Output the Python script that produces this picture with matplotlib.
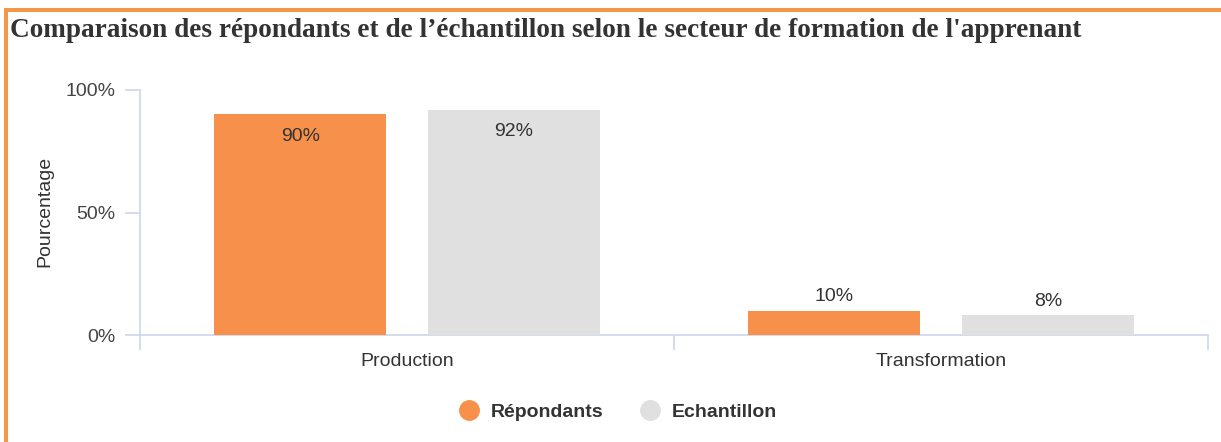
import matplotlib
matplotlib.use("Agg")
import matplotlib.pyplot as plt
from matplotlib.lines import Line2D
from matplotlib.patches import Rectangle
import numpy as np

# ---- data ----
categories = ["Production", "Transformation"]
series_names = ["Répondants", "Echantillon"]
repondants = [90, 10]
echantillon = [92, 8]
yticks = [0, 50, 100]
ytick_labels = ["0%", "50%", "100%"]
title = "Comparaison des répondants et de l\u2019échantillon selon le secteur de formation de l'apprenant"
ylabel = "Pourcentage"

# ---- style ----
ORANGE = "#F7904A"
GREY = "#E0E0E0"
AXIS = "#CCD6EB"
TXT = "#333333"
BORDER = "#F79646"
FS = 14

plt.rcParams["font.family"] = ["Liberation Sans", "DejaVu Sans"]

W, H = 1221, 442
fig = plt.figure(figsize=(W / 100, H / 100), dpi=100)

# orange frame (top and left)
fig.patches.append(Rectangle((4 / W, 1 - 12 / H), 1 - 4 / W, 4 / H, transform=fig.transFigure,
                             color=BORDER, lw=0, zorder=0))
fig.patches.append(Rectangle((4 / W, 0), 4 / W, 1 - 8 / H, transform=fig.transFigure,
                             color=BORDER, lw=0, zorder=0))

fig.text(10 / W, 1 - 37 / H, title, family=["Liberation Serif", "DejaVu Serif"],
         fontweight="bold", fontsize=19.6, color=TXT, va="baseline", ha="left")

ax = fig.add_axes([140 / W, 1 - 335 / H, (1208 - 140) / W, (335 - 90) / H])
x = np.arange(len(categories))
bw = 0.322
off = 0.2
b1 = ax.bar(x - off, repondants, bw, color=ORANGE, zorder=3)
b2 = ax.bar(x + off, echantillon, bw, color=GREY, zorder=3)

for bars, vals in ((b1, repondants), (b2, echantillon)):
    for rect, v in zip(bars, vals):
        cx = rect.get_x() + rect.get_width() / 2
        dy = -15.5 if v > 80 else 10
        ax.annotate(f"{v}%", (cx, v), xytext=(0, dy), textcoords="offset points",
                    ha="center", va="center", fontsize=FS, color=TXT, zorder=4)

ax.set_xlim(-0.5, len(categories) - 0.5)
ax.set_ylim(0, 100)
for s in ("top", "right", "bottom"):
    ax.spines[s].set_visible(False)
ax.spines["left"].set_color(AXIS)
ax.spines["left"].set_linewidth(1.2)
ax.axhline(0, color=AXIS, lw=1.2, zorder=2, clip_on=False)

ax.set_yticks(yticks)
ax.set_yticklabels(ytick_labels)
ax.tick_params(axis="y", length=10.8, width=1.2, color=AXIS, pad=7, labelsize=FS,
               labelcolor="#444444")

ax.set_xticks(x)
ax.set_xticklabels(categories)
ax.set_xticks(np.arange(len(categories) + 1) - 0.5, minor=True)
ax.tick_params(axis="x", which="major", length=0, pad=13, labelsize=FS, labelcolor=TXT)
ax.tick_params(axis="x", which="minor", length=10.8, width=1.2, color=AXIS)

ax.set_ylabel(ylabel, fontsize=FS, color=TXT)
ax.yaxis.set_label_coords((53 - 140) / (1208 - 140), (335 - 211) / (335 - 90))

handles = [Line2D([], [], ls="none", marker="o", markersize=14, color=ORANGE),
           Line2D([], [], ls="none", marker="o", markersize=14, color=GREY)]
leg = fig.legend(handles, series_names, loc="center", bbox_to_anchor=(618 / W, 1 - 412 / H),
                 ncol=2, frameon=False, handlelength=1.0, handletextpad=0.6,
                 columnspacing=1.9, prop={"weight": "bold", "size": FS})
for t in leg.get_texts():
    t.set_color(TXT)

fig.savefig("out.png", dpi=100)
